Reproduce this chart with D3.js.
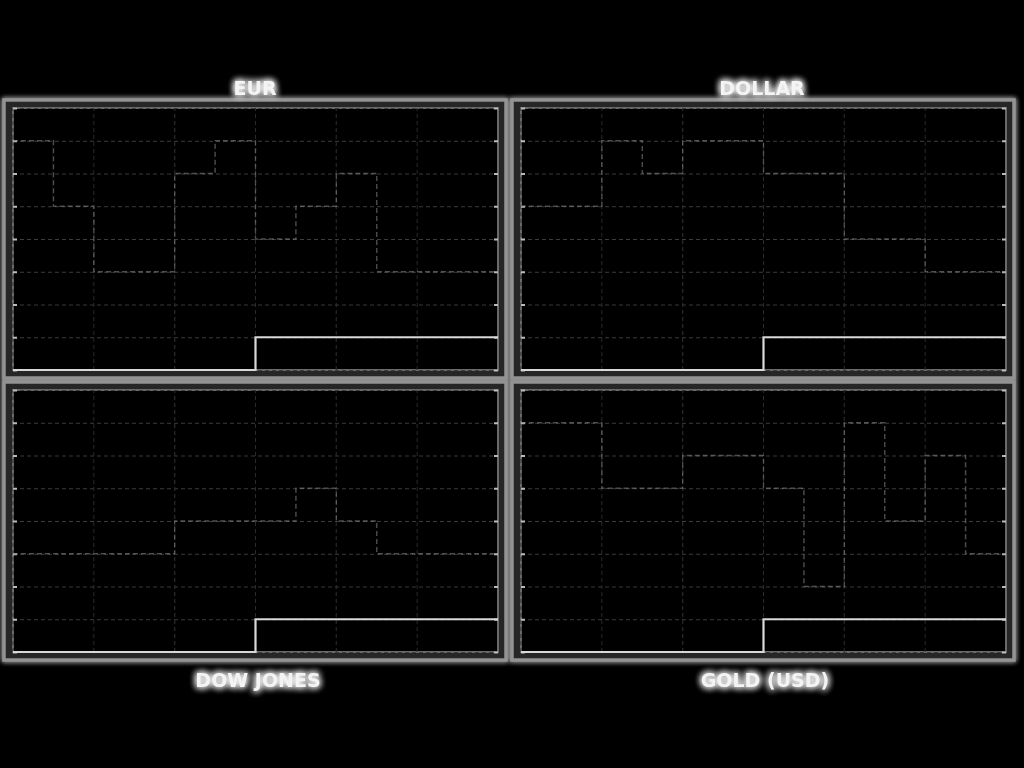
<!DOCTYPE html>
<html>
<head>
<meta charset="utf-8">
<script src="https://cdn.jsdelivr.net/npm/d3@7"></script>
<style>
  html, body { margin: 0; padding: 0; background: #000; }
  svg { display: block; }
</style>
</head>
<body>
<svg id="chart" width="1024" height="768"></svg>
<script>
// ---------- data ----------
const months = ["Jan","Feb","Mar","Apr","May","Jun","Jul","Aug","Sep","Oct","Nov","Dec"];
const panelTitles = ["EUR", "DOLLAR", "DOW JONES", "GOLD (USD)"];
const levelTicks = [0, 1, 2, 3, 4, 5, 6, 7, 8];
const monthTicks = ["Jan", "Mar", "May", "Jul", "Sep", "Nov"];

// main (bright) step series per panel
const eurMain    = [0,0,0,0,0,0,1,1,1,1,1,1];
const dollarMain = [0,0,0,0,0,0,1,1,1,1,1,1];
const dowMain    = [0,0,0,0,0,0,1,1,1,1,1,1];
const goldMain   = [0,0,0,0,0,0,1,1,1,1,1,1];

// secondary (dim) step series per panel
const eurAlt    = [7,5,3,3,6,7,4,5,6,3,3,3];
const dollarAlt = [5,5,7,6,7,7,6,6,4,4,3,3];
const dowAlt    = [3,3,3,3,4,4,4,5,4,3,3,3];
const goldAlt   = [7,7,5,5,6,6,5,2,7,4,6,3];

const mainSeries = [eurMain, dollarMain, dowMain, goldMain];
const altSeries  = [eurAlt, dollarAlt, dowAlt, goldAlt];

// ---------- drawing ----------
const svg = d3.select("#chart");
const defs = svg.append("defs");
const glow = defs.append("filter").attr("id","glow")
  .attr("x","-10%").attr("y","-10%").attr("width","120%").attr("height","120%");
glow.append("feGaussianBlur").attr("in","SourceGraphic").attr("stdDeviation",2.5).attr("result","b");
const m = glow.append("feMerge");
m.append("feMergeNode").attr("in","b");
m.append("feMergeNode").attr("in","b");
m.append("feMergeNode").attr("in","SourceGraphic");

const tglow = defs.append("filter").attr("id","tglow")
  .attr("x","-30%").attr("y","-60%").attr("width","160%").attr("height","220%");
tglow.append("feGaussianBlur").attr("in","SourceGraphic").attr("stdDeviation",3.5).attr("result","b");
const tm = tglow.append("feMerge");
tm.append("feMergeNode").attr("in","b");
tm.append("feMergeNode").attr("in","b");
tm.append("feMergeNode").attr("in","b");
tm.append("feMergeNode").attr("in","SourceGraphic");

svg.append("rect").attr("width",1024).attr("height",768).attr("fill","#000");

const root = svg.append("g").attr("filter","url(#glow)");

const panelW = 502, panelH = 278;
const padX = 9, padTop = 8, padBottom = 8;

panelTitles.forEach((title, i) => {
  const col = i % 2, row = Math.floor(i / 2);
  const px = 4 + col * 508, py = 100 + row * 282;
  const g = root.append("g").attr("transform", `translate(${px},${py})`);

  g.append("rect").attr("x",0).attr("y",0).attr("width",panelW).attr("height",panelH)
    .attr("fill","#262626").attr("stroke","#939393").attr("stroke-width",3.5);

  const ix0 = padX, ix1 = panelW - padX + 1, iy0 = padTop, iy1 = panelH - padBottom;
  g.append("rect").attr("x",ix0).attr("y",iy0).attr("width",ix1-ix0).attr("height",iy1-iy0)
    .attr("fill","#030303").attr("stroke","#6a6a6a").attr("stroke-width",2);

  const x = d3.scaleLinear().domain([0, months.length]).range([ix0, ix1]);
  const xb = d3.scaleBand().domain(months).range([ix0, ix1]);
  const y = d3.scaleLinear().domain([0, 8]).range([iy1, iy0]);

  // horizontal grid
  g.append("g").attr("transform",`translate(${ix0},0)`)
    .call(d3.axisLeft(y).tickValues(levelTicks).tickSize(-(ix1-ix0)).tickFormat(""))
    .call(a => a.select(".domain").remove())
    .call(a => a.selectAll("line").attr("stroke","#3c3c3c").attr("stroke-dasharray","4,3"));
  // vertical grid
  g.append("g").attr("transform",`translate(0,${iy1})`)
    .call(d3.axisBottom(xb).tickValues(monthTicks).tickSize(-(iy1-iy0)).tickFormat("")
      .offset(0))
    .call(a => a.select(".domain").remove())
    .call(a => a.selectAll(".tick").attr("transform", d => `translate(${xb(d)},0)`))
    .call(a => a.selectAll("line").attr("stroke","#2c2c2c").attr("stroke-dasharray","4,3"));

  // edge ticks
  g.append("g").attr("transform",`translate(${ix0},0)`)
    .call(d3.axisRight(y).tickValues(levelTicks).tickSize(4).tickFormat(""))
    .call(a => a.select(".domain").remove())
    .call(a => a.selectAll("line").attr("stroke","#bbb").attr("stroke-width",2));
  g.append("g").attr("transform",`translate(${ix1},0)`)
    .call(d3.axisLeft(y).tickValues(levelTicks).tickSize(4).tickFormat(""))
    .call(a => a.select(".domain").remove())
    .call(a => a.selectAll("line").attr("stroke","#bbb").attr("stroke-width",2));

  const line = d3.line()
    .x((d, k) => x(k))
    .y(d => y(d))
    .curve(d3.curveStepAfter);
  const ext = arr => arr.concat([arr[arr.length - 1]]);

  g.append("path").datum(ext(altSeries[i]))
    .attr("d", line).attr("fill","none")
    .attr("stroke","#8a8a8a").attr("stroke-width",1.4).attr("stroke-opacity",0.55)
    .attr("stroke-dasharray","5,3");

  g.append("path").datum(ext(mainSeries[i]))
    .attr("d", line).attr("fill","none")
    .attr("stroke","#d8d8d8").attr("stroke-width",2.2);
});

// titles
const titlePos = [[255, 88], [762, 88], [258, 680], [765, 680]];
svg.append("g").attr("filter","url(#tglow)")
  .selectAll("text").data(panelTitles).join("text")
  .attr("x", (d, i) => titlePos[i][0])
  .attr("y", (d, i) => titlePos[i][1])
  .attr("text-anchor","middle").attr("dominant-baseline","central")
  .attr("font-family","'DejaVu Sans', sans-serif").attr("font-weight","bold")
  .attr("font-size",19).attr("fill","#f4f4f4")
  .text(d => d);
</script>
</body>
</html>
